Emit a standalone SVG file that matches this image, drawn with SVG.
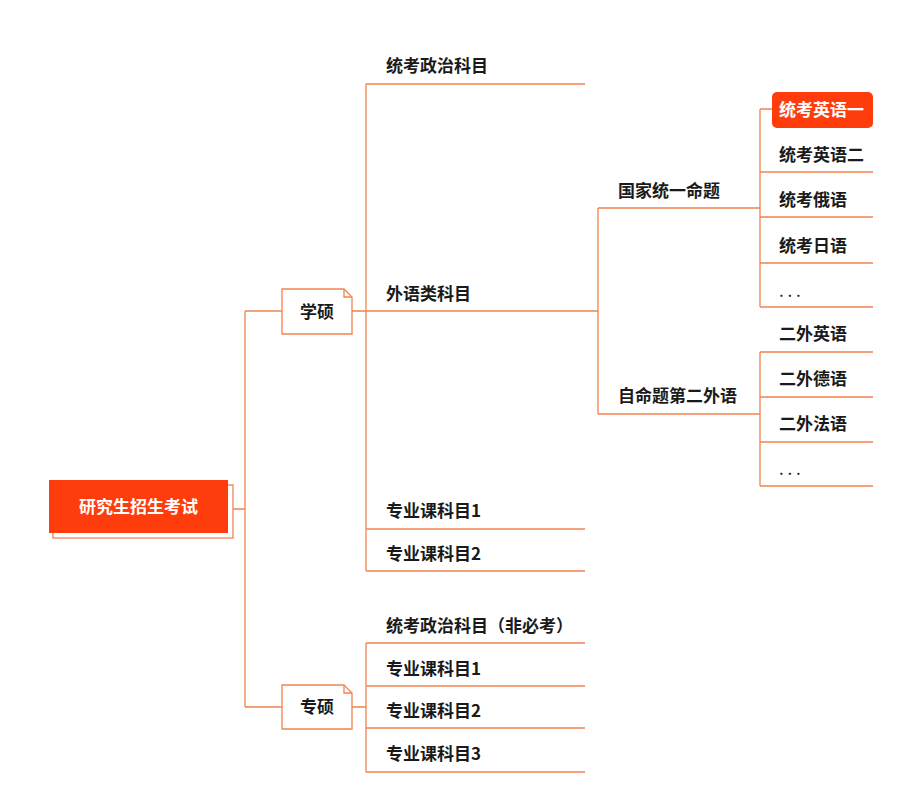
<svg xmlns="http://www.w3.org/2000/svg" width="922" height="800" viewBox="0 0 922 800">
<style>
.ln{fill:none;stroke:#F0844F;stroke-width:1.3}
.t{font-family:"Noto Sans CJK SC","Liberation Sans",sans-serif;font-size:17px;font-weight:bold;fill:#1a1a1a}
.w{font-family:"Noto Sans CJK SC","Liberation Sans",sans-serif;font-size:17px;font-weight:bold;fill:#ffffff}
.note{fill:#ffffff;stroke:#F0844F;stroke-width:1.3}
</style>
<rect width="922" height="800" fill="#ffffff"/>
<g id="connectors">
<path class="ln" d="M233,509 H245 M245,311 V707 M245,311 H282 M245,707 H282"/>
<path class="ln" d="M352,311 H366 M366,84 V571 M366,84 H585 M366,311 H598 M366,529 H585 M366,571 H585"/>
<path class="ln" d="M598,208 V414 M598,208 H760 M598,414 H760"/>
<path class="ln" d="M760,109 V307 M760,109 H772 M760,172 H873 M760,217 H873 M760,263 H873 M760,307 H873"/>
<path class="ln" d="M760,352 V486 M760,352 H873 M760,397 H873 M760,442 H873 M760,486 H873"/>
<path class="ln" d="M352,707 H366 M366,643 V772 M366,643 H585 M366,686 H585 M366,728 H585 M366,772 H585"/>
</g>
<g id="root">
<rect x="53" y="485" width="180" height="53" class="note"/>
<rect x="49" y="480" width="179" height="53" fill="#FF3C0C"/>
<text class="w" x="138.5" y="513" text-anchor="middle">研究生招生考试</text>
</g>
<g id="xueshuo">
<path class="note" d="M282,289 H344 L352,297 V334 H282 Z"/>
<path class="ln" d="M344,289 V297 H352"/>
<text class="t" x="317" y="318" text-anchor="middle">学硕</text>
</g>
<g id="zhuanshuo">
<path class="note" d="M282,685 H344 L352,693 V729 H282 Z"/>
<path class="ln" d="M344,685 V693 H352"/>
<text class="t" x="317" y="713" text-anchor="middle">专硕</text>
</g>
<g id="n-zhengzhi"><text class="t" x="386" y="72">统考政治科目</text></g>
<g id="n-waiyu"><text class="t" x="386" y="300">外语类科目</text></g>
<g id="n-zhuanye1"><text class="t" x="386" y="517">专业课科目1</text></g>
<g id="n-zhuanye2"><text class="t" x="386" y="560">专业课科目2</text></g>
<g id="n-guojia"><text class="t" x="618" y="197">国家统一命题</text></g>
<g id="n-zimingti"><text class="t" x="618" y="402">自命题第二外语</text></g>
<g id="n-yingyu1">
<rect x="772" y="92" width="101" height="36" rx="5" fill="#FF3C0C"/>
<text class="w" x="779" y="116">统考英语一</text>
</g>
<g id="n-yingyu2"><text class="t" x="779" y="161">统考英语二</text></g>
<g id="n-eyu"><text class="t" x="779" y="206">统考俄语</text></g>
<g id="n-riyu"><text class="t" x="779" y="252">统考日语</text></g>
<g id="n-more1"><text class="t" x="779" y="297" style="font-weight:normal">. . .</text></g>
<g id="n-erwai-en"><text class="t" x="779" y="340">二外英语</text></g>
<g id="n-erwai-de"><text class="t" x="779" y="385">二外德语</text></g>
<g id="n-erwai-fr"><text class="t" x="779" y="430">二外法语</text></g>
<g id="n-more2"><text class="t" x="779" y="475" style="font-weight:normal">. . .</text></g>
<g id="z-zhengzhi"><text class="t" x="386" y="632">统考政治科目（非必考）</text></g>
<g id="z-zhuanye1"><text class="t" x="386" y="675">专业课科目1</text></g>
<g id="z-zhuanye2"><text class="t" x="386" y="717">专业课科目2</text></g>
<g id="z-zhuanye3"><text class="t" x="386" y="760">专业课科目3</text></g>
</svg>
